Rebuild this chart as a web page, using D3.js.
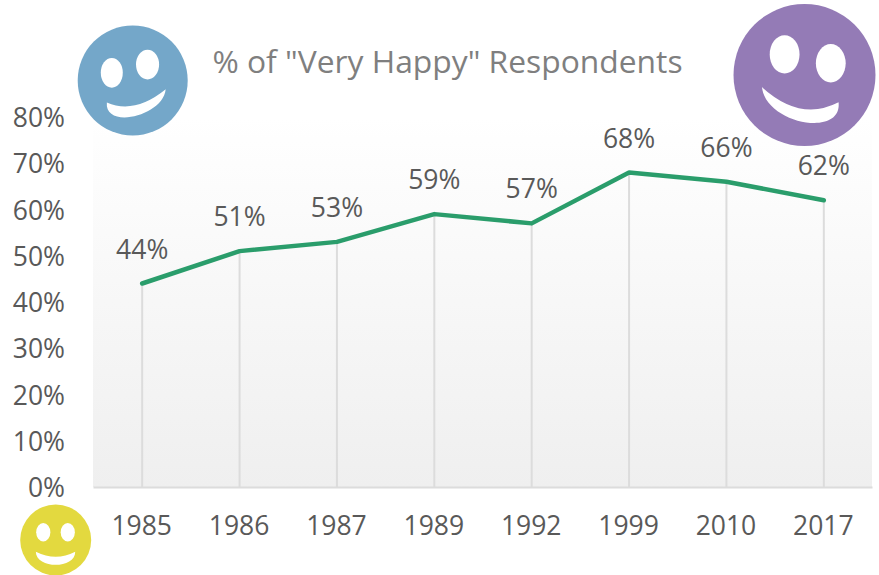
<!DOCTYPE html>
<html>
<head>
<meta charset="utf-8">
<script src="https://d3js.org/d3.v7.min.js"></script>
<style>
html, body { margin: 0; padding: 0; background: #fff; }
svg { display: block; }
text { font-family: "Open Sans", sans-serif; fill: #595959; }
</style>
</head>
<body>
<div id="chart"></div>
<script>
const years = ['1985', '1986', '1987', '1989', '1992', '1999', '2010', '2017'];
const happy = [44, 51, 53, 59, 57, 68, 66, 62];
const yTicks = [0, 10, 20, 30, 40, 50, 60, 70, 80];
const chartTitle = '% of "Very Happy" Respondents';

const width = 879, height = 575;
const plot = { left: 93, right: 872, top: 117, bottom: 487 };
const fontSize = 26.5;

const svg = d3.select('#chart').append('svg')
	.attr('width', width)
	.attr('height', height);

const x = d3.scaleBand().domain(years).range([plot.left, plot.right]);
const y = d3.scaleLinear().domain([0, 80]).range([plot.bottom, plot.top]);
const xMid = d => x(d) + x.bandwidth() / 2 + 0.5;

const grad = svg.append('defs').append('linearGradient')
	.attr('id', 'bg')
	.attr('x1', 0).attr('y1', 0).attr('x2', 0).attr('y2', 1);
grad.append('stop').attr('offset', '0%').attr('stop-color', '#ffffff');
grad.append('stop').attr('offset', '100%').attr('stop-color', '#efefef');

svg.append('rect')
	.attr('x', plot.left)
	.attr('y', plot.top)
	.attr('width', plot.right - plot.left)
	.attr('height', plot.bottom - plot.top)
	.attr('fill', 'url(#bg)');

// drop lines
svg.append('g').selectAll('line')
	.data(years)
	.enter()
	.append('line')
	.attr('x1', xMid)
	.attr('x2', xMid)
	.attr('y1', (d, i) => y(happy[i]))
	.attr('y2', plot.bottom)
	.attr('stroke', '#dcdcdc')
	.attr('stroke-width', 2);

// x axis
const xAxis = svg.append('g')
	.attr('transform', `translate(0,${plot.bottom})`)
	.call(d3.axisBottom(x).tickSize(0).tickPadding(29));
xAxis.select('.domain').attr('stroke', '#dcdcdc').attr('stroke-width', 2);
xAxis.selectAll('text').attr('font-size', fontSize).attr('font-family', null);

// y axis
const yAxis = svg.append('g')
	.attr('transform', `translate(${plot.left},0)`)
	.call(d3.axisLeft(y).tickValues(yTicks).tickSize(0).tickPadding(28).tickFormat(d => d + '%'));
yAxis.select('.domain').remove();
yAxis.selectAll('text').attr('font-size', fontSize).attr('font-family', null).attr('dy', '0.36em');

const lineGen = d3.line()
	.x((d, i) => xMid(years[i]))
	.y(d => y(d));

svg.append('path')
	.datum(happy)
	.attr('d', lineGen)
	.attr('fill', 'none')
	.attr('stroke', '#2a9d6b')
	.attr('stroke-width', 4.5)
	.attr('stroke-linejoin', 'round')
	.attr('stroke-linecap', 'round');

svg.append('g').selectAll('text')
	.data(happy)
	.enter()
	.append('text')
	.attr('x', (d, i) => xMid(years[i]))
	.attr('y', d => y(d) - 25)
	.attr('text-anchor', 'middle')
	.attr('font-size', fontSize)
	.text(d => d + '%');

svg.append('text')
	.attr('x', 447.5)
	.attr('y', 73)
	.attr('text-anchor', 'middle')
	.attr('font-size', 31.8)
	.style('fill', '#7f7f7f')
	.text(chartTitle);

// smiley: eyes are [x, y, rx, ry], mouth is left tip, right tip, bottom, top, all in face radii
function smiley(cx, cy, r, color, eyes, mouth) {
	const g = svg.append('g').attr('transform', `translate(${cx},${cy}) scale(${r})`);
	g.append('circle').attr('r', 1).attr('fill', color);
	eyes.forEach(e => {
		g.append('ellipse')
			.attr('cx', e[0])
			.attr('cy', e[1])
			.attr('rx', e[2])
			.attr('ry', e[3])
			.attr('fill', '#fff');
	});
	const [a, b, low, high] = mouth;
	const mid = [(a[0] + b[0]) / 2, (a[1] + b[1]) / 2];
	const c1 = [2 * high[0] - mid[0], 2 * high[1] - mid[1]];
	// cubic for the lower lip, the bottom of the grin is round and not pointed
	const off = [(low[0] - mid[0]) * 4 / 3, (low[1] - mid[1]) * 4 / 3];
	const c2 = [b[0] + off[0], b[1] + off[1]];
	const c3 = [a[0] + off[0], a[1] + off[1]];
	g.append('path')
		.attr('d', `M${a} Q${c1} ${b} C${c2} ${c3} ${a} Z`)
		.attr('fill', '#fff');
}

smiley(132.7, 80.5, 55, '#74a7c9',
	[[-0.38, -0.14, 0.2, 0.27], [0.27, -0.29, 0.21, 0.27]],
	[[-0.47, 0.4], [0.6, 0.16], [0.03, 0.65], [0.05, 0.45]]);
smiley(804.5, 75, 71, '#947bb6',
	[[-0.28, -0.29, 0.21, 0.27], [0.37, -0.165, 0.21, 0.27]],
	[[-0.6, 0.17], [0.48, 0.385], [-0.02, 0.66], [-0.06, 0.47]]);
smiley(55.7, 540, 35.5, '#e3d93f',
	[[-0.35, -0.22, 0.2, 0.26], [0.34, -0.22, 0.2, 0.26]],
	[[-0.56, 0.33], [0.55, 0.33], [0, 0.7], [0, 0.47]]);
</script>
</body>
</html>
